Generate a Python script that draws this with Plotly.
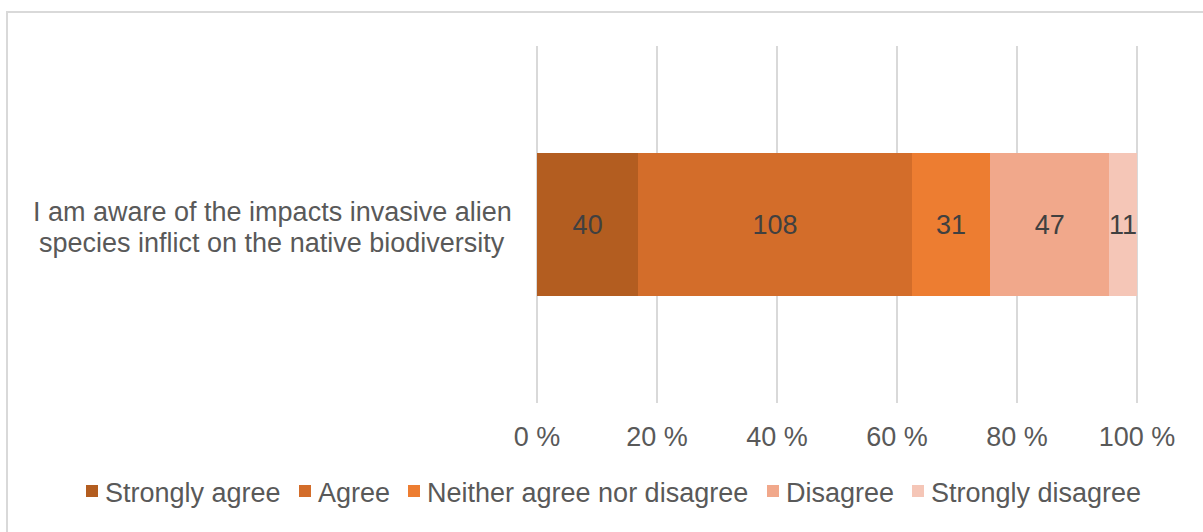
import plotly.graph_objects as go

# Survey statement (two display lines) and response counts per answer category
statement_lines = ["I am aware of the impacts invasive alien",
                   "species inflict on the native biodiversity"]
categories = ["Strongly agree", "Agree", "Neither agree nor disagree", "Disagree", "Strongly disagree"]
counts = [40, 108, 31, 47, 11]
colors = ["#B35D20", "#D36D2A", "#ED7D31", "#F1A88B", "#F5C6B7"]

tick_vals = [0, 20, 40, 60, 80, 100]
tick_text = ["0 %", "20 %", "40 %", "60 %", "80 %", "100 %"]

FONT = "Liberation Sans, Arial, sans-serif"
TXT = "#595959"
SIZE = 27

# Pixel layout: the 0-100 % scale runs from x=537 to x=1137
W, H = 1203, 532
L, R, T, B = 535, 64, 46, 129
pw, ph = W - L - R, H - T - B
x_lo = -2 * 100 / 600
x_hi = 100 + 2 * 100 / 600
def px_x(p): return (p - L) / pw
def px_y(p): return (H - B - p) / ph

fig = go.Figure()
for name, n, c in zip(categories, counts, colors):
    fig.add_trace(go.Bar(
        y=["q"], x=[n], name=name, orientation="h",
        marker=dict(color=c, line=dict(width=0)),
        text=[str(n)], textposition="inside", insidetextanchor="middle",
        textfont=dict(family=FONT, size=SIZE, color="#404040"),
        constraintext="none", hoverinfo="name+x", showlegend=False,
    ))

# Outer chart frame
fig.add_shape(type="rect", xref="paper", yref="paper",
              x0=px_x(7), x1=px_x(1215), y0=px_y(545), y1=px_y(12),
              line=dict(color="#D9D9D9", width=2), fillcolor="rgba(0,0,0,0)", layer="below")

# Category label, centred over two lines
for line, yc in zip(statement_lines, [212, 243]):
    fig.add_annotation(text=line, xref="paper", yref="paper",
                       x=px_x(272), y=px_y(yc), xanchor="center", yanchor="middle",
                       showarrow=False, align="center",
                       font=dict(family=FONT, size=SIZE, color=TXT))

# Legend row: square swatch followed by its label
legend_left = [86, 299, 408, 767, 912]
for name, c, x0 in zip(categories, colors, legend_left):
    fig.add_shape(type="rect", xref="paper", yref="paper",
                  x0=px_x(x0), x1=px_x(x0 + 12), y0=px_y(497), y1=px_y(485),
                  line=dict(width=0), fillcolor=c)
    fig.add_annotation(text=name, xref="paper", yref="paper",
                       x=px_x(x0 + 17), y=px_y(493), xanchor="left", yanchor="middle",
                       showarrow=False, font=dict(family=FONT, size=SIZE, color=TXT))

fig.update_layout(
    width=W, height=H,
    margin=dict(l=L, r=R, t=T, b=B, autoexpand=False),
    barmode="stack", barnorm="percent", bargap=0.6,
    plot_bgcolor="white", paper_bgcolor="white",
    uniformtext=dict(mode="show", minsize=SIZE),
    font=dict(family=FONT, size=SIZE, color=TXT),
    showlegend=False,
    xaxis=dict(range=[x_lo, x_hi], tickvals=tick_vals, ticktext=tick_text,
               showgrid=True, gridcolor="#D9D9D9", gridwidth=2,
               zeroline=False, showline=False, ticks="", ticklabelstandoff=15,
               tickfont=dict(family=FONT, size=SIZE, color=TXT)),
    yaxis=dict(showticklabels=False, showgrid=False, zeroline=False, range=[-0.5, 0.5]),
)

fig.write_html("out.html")
